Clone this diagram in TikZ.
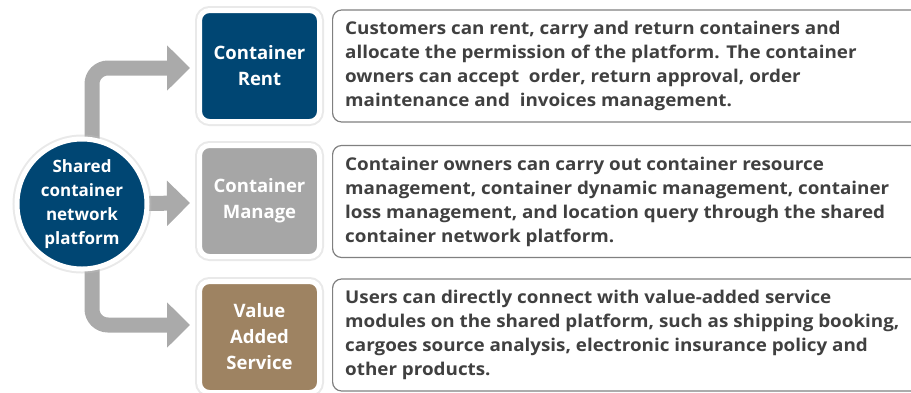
\documentclass[tikz,border=0pt]{standalone}
\usepackage{fontspec}
\setmainfont{Open Sans}
\newfontfamily\descfont[FakeStretch=1.07]{Open Sans}
\usetikzlibrary{arrows.meta,positioning}
\definecolor{hubblue}{RGB}{0,70,115}
\definecolor{midgrey}{RGB}{166,166,166}
\definecolor{arrowgrey}{RGB}{170,170,170}
\definecolor{brownish}{RGB}{158,131,98}
\definecolor{textgrey}{RGB}{64,64,64}
\definecolor{framegrey}{RGB}{128,128,128}
\tikzset{
  shadowed/.style={preaction={draw=black!25,line width=9pt,opacity=0.35}},
  hubnode/.style={circle,fill=hubblue,draw=white,line width=5pt,minimum size=130pt,
    inner sep=0pt,text=white,align=center,font=\bfseries\fontsize{17}{24}\selectfont,shadowed},
  catbox/.style={rounded corners=10pt,draw=white,line width=5pt,minimum width=120pt,
    minimum height=111pt,inner sep=0pt,text=white,align=center,
    font=\bfseries\fontsize{18.5}{26}\selectfont,shadowed},
  descbox/.style={rounded corners=9pt,draw=framegrey,line width=1.2pt,fill=white,
    minimum width=598pt,minimum height=112pt,anchor=west},
  desctext/.style={anchor=west,align=left,text=textgrey,inner sep=0pt,
    font=\descfont\bfseries\fontsize{17.6}{24}\selectfont},
  bigarrow/.style={draw=arrowgrey,line width=15pt,rounded corners=16pt,
    -{Triangle[length=23pt,width=44pt]}}
}
\begin{document}
\begin{tikzpicture}[x=1pt,y=-1pt]
  \useasboundingbox (0,0) rectangle (911,392);
  % category boxes
  \node[catbox,fill=hubblue] (rent) at (259.5,66) {Container\\Rent};
  \node[catbox,fill=midgrey] (manage) at (259.5,201) {Container\\Manage};
  \node[catbox,fill=brownish] (value) at (259.5,337) {Value\\Added\\Service};
  % hub position
  \coordinate (hubc) at (82,204);
  % connectors from the hub to the categories
  \draw[bigarrow] ([xshift=10pt]hubc) |- ([xshift=-7pt,yshift=-2pt]rent.west);
  \draw[bigarrow] (hubc) -- ([xshift=-7pt,yshift=-2pt]manage.west);
  \draw[bigarrow] ([xshift=10pt]hubc) |- ([xshift=-7pt,yshift=12pt]value.west);
  % hub
  \node[hubnode] (hub) at (hubc) {Shared\\container\\network\\platform};
  % description boxes
  \node[descbox] (d1) at (332,66) {};
  \node[descbox] (d2) at (332,201.5) {};
  \node[descbox] (d3) at (332,335) {};
  \node[desctext] (t1) at ([xshift=13pt]d1.west) {Customers can rent, carry and return containers and\\
    allocate the permission of the platform. The container\\
    owners can accept\ \ order, return approval, order\\
    maintenance and\ \ invoices management.};
  \node[desctext] (t2) at ([xshift=13pt]d2.west) {Container owners can carry out container resource\\
    management, container dynamic management, container\\
    loss management, and location query through the shared\\
    container network platform.};
  \node[desctext] (t3) at ([xshift=13pt]d3.west) {Users can directly connect with value-added\ service\\
    modules on the shared platform, such as shipping booking,\\
    cargoes source analysis, electronic insurance\ policy and\\
    other products.};
\end{tikzpicture}
\end{document}
